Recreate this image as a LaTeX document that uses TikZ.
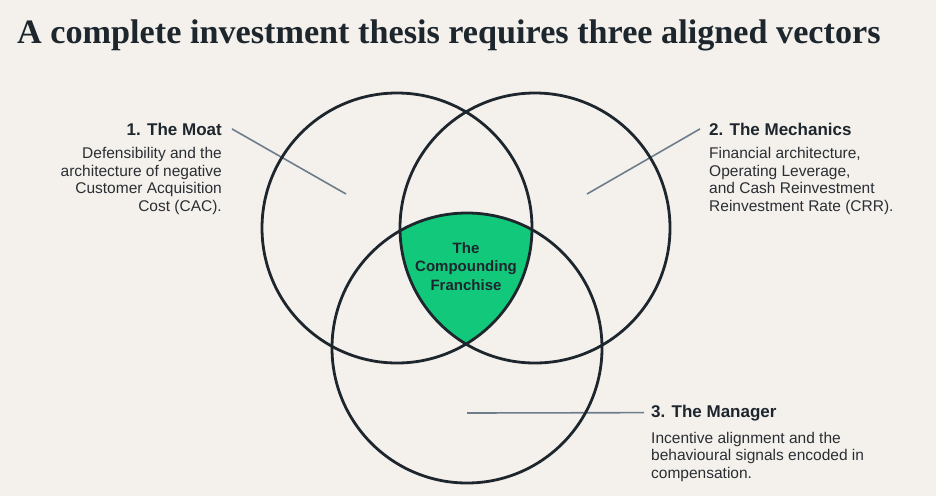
\documentclass[tikz,border=0pt]{standalone}
\usepackage{fontspec}
\setmainfont{Liberation Sans}
\newfontfamily\titlefont{Liberation Serif}
\definecolor{bg}{HTML}{F4F1EC}
\definecolor{ink}{HTML}{1E262D}
\definecolor{lead}{HTML}{6E7D8B}
\definecolor{franchise}{HTML}{12C97B}
\definecolor{txt}{HTML}{2A2E33}
\tikzset{
  vring/.style={circle, draw=ink, line width=2.8pt, minimum size=270pt, inner sep=0pt, outer sep=0pt},
  leader/.style={draw=lead, line width=1.6pt},
  headtxt/.style={inner sep=0pt, text=ink, font=\fontsize{17}{20}\selectfont\bfseries},
  bodytxt/.style={inner sep=0pt, text=txt, font=\fontsize{15.5}{17.8}\selectfont},
}
\begin{document}
\begin{tikzpicture}[x=1pt,y=-1pt]
\fill[bg] (0,0) rectangle (936,496);
\useasboundingbox (0,0) rectangle (936,496);
\node[anchor=base west, inner sep=0pt, text=ink, font=\titlefont\bfseries\fontsize{34.2}{40}\selectfont] (title) at (17,43) {A complete investment thesis requires three aligned vectors};
% central intersection
\begin{scope}
  \clip (397,228) circle[radius=135pt];
  \clip (535,228) circle[radius=135pt];
  \fill[franchise] (467,348) circle[radius=135pt];
\end{scope}
% leader end points
\coordinate (moatend) at (346,194);
\coordinate (mechend) at (587,194);
\coordinate (manend) at (467,413);
% labels
\node[headtxt, anchor=base east] (moathead) at (222,135) {1. The Moat};
\node[bodytxt, anchor=base east] (moatbody) at (222,158.3) {\begin{tabular}[t]{@{}r@{}}Defensibility and the\\ architecture of negative\\ Customer Acquisition\\ Cost (CAC).\end{tabular}};
\node[headtxt, anchor=base west] (mechhead) at (709,135) {2. The Mechanics};
\node[bodytxt, anchor=base west] (mechbody) at (709,158.3) {\begin{tabular}[t]{@{}l@{}}Financial architecture,\\ Operating Leverage,\\ and Cash Reinvestment\\ Reinvestment Rate (CRR).\end{tabular}};
\node[headtxt, anchor=base west] (manhead) at (651,417) {3. The Manager};
\node[bodytxt, anchor=base west] (manbody) at (651,443) {\begin{tabular}[t]{@{}l@{}}Incentive alignment and the\\ behavioural signals encoded in\\ compensation.\end{tabular}};
% leaders
\draw[leader] ([xshift=10pt]moathead.east) -- (moatend);
\draw[leader] ([xshift=-9pt]mechhead.west) -- (mechend);
\draw[leader] ([xshift=-7pt]manhead.west) -- (manend);
% circles
\node[vring] (moat) at (397,228) {};
\node[vring] (mech) at (535,228) {};
\node[vring] (man) at (467,348) {};
\node[inner sep=0pt, text=ink, font=\fontsize{15}{18.5}\selectfont\bfseries, anchor=base] (core) at (466,253) {\begin{tabular}[t]{@{}c@{}}The\\ Compounding\\ Franchise\end{tabular}};
\end{tikzpicture}
\end{document}
